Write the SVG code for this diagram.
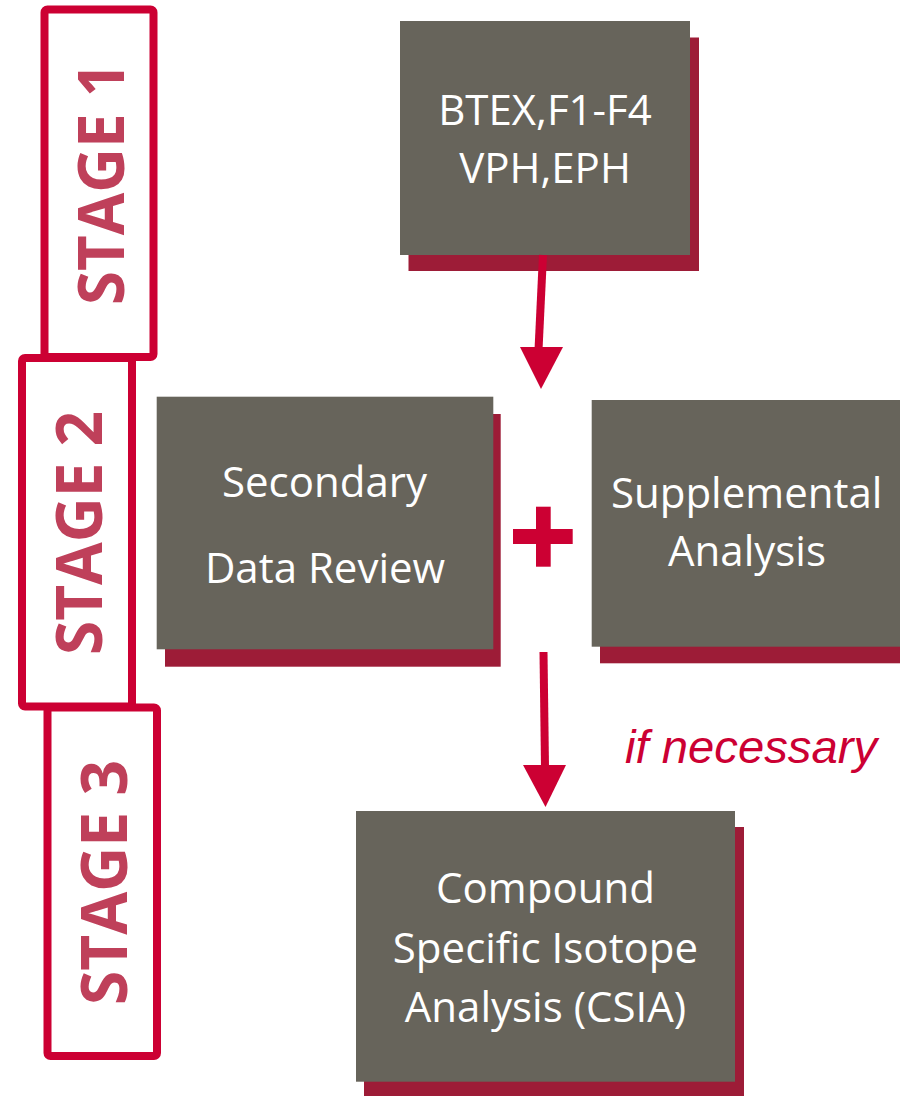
<svg xmlns="http://www.w3.org/2000/svg" width="900" height="1096" viewBox="0 0 900 1096">
<style>
.stage{fill:#fff;stroke:#CC0033;stroke-width:8;}
.stxt{font-family:"Open Sans","DejaVu Sans",sans-serif;font-weight:bold;font-size:65px;fill:#BF405A;text-anchor:middle;}
.main{fill:#67645B;}
.shadow{fill:#9D1C37;}
.btxt{font-family:"Open Sans","DejaVu Sans",sans-serif;font-size:42px;fill:#fff;text-anchor:middle;}
.conn{stroke:#CC0033;stroke-width:8;fill:none;}
.head{fill:#CC0033;}
.note{font-family:"Liberation Sans",Arial,sans-serif;font-style:italic;font-size:46px;fill:#CC0033;}
</style>
<rect width="900" height="1096" fill="#fff"/>
<g id="stage1">
<rect class="stage" x="44.5" y="9.5" width="109" height="347.5" rx="3"/>
<text class="stxt" transform="translate(124,183.5) rotate(-90)" textLength="243" lengthAdjust="spacingAndGlyphs">STAGE 1</text>
</g>
<g id="stage2">
<rect class="stage" x="22" y="358" width="110" height="348.5" rx="3"/>
<text class="stxt" transform="translate(102,533) rotate(-90)" textLength="244" lengthAdjust="spacingAndGlyphs">STAGE 2</text>
</g>
<g id="stage3">
<rect class="stage" x="47.5" y="707.5" width="109.5" height="348.5" rx="3"/>
<text class="stxt" transform="translate(127,882.5) rotate(-90)" textLength="245" lengthAdjust="spacingAndGlyphs">STAGE 3</text>
</g>
<g id="btex">
<rect class="shadow" x="408.5" y="37.5" width="290.5" height="233.5"/>
<rect class="main" x="400" y="21" width="290" height="234"/>
<text class="btxt" x="545" y="125">BTEX,F1-F4</text>
<text class="btxt" x="545" y="183">VPH,EPH</text>
</g>
<g id="secondary">
<rect class="shadow" x="165" y="414" width="335.7" height="252.7"/>
<rect class="main" x="156.7" y="396.7" width="336.6" height="252.6"/>
<text class="btxt" x="324.5" y="496.7">Secondary</text>
<text class="btxt" x="325" y="582.7">Data Review</text>
</g>
<g id="plus">
<rect class="head" x="536" y="506.7" width="14.7" height="60"/>
<rect class="head" x="513" y="529" width="59.7" height="15"/>
</g>
<g id="supplemental">
<rect class="shadow" x="600" y="416.5" width="300" height="246.8"/>
<rect class="main" x="591.7" y="400" width="308.3" height="246.7"/>
<text class="btxt" x="746.7" y="508.3">Supplemental</text>
<text class="btxt" x="747" y="566">Analysis</text>
</g>
<g id="csia">
<rect class="shadow" x="364" y="827" width="380" height="269"/>
<rect class="main" x="356" y="811" width="379" height="270.7"/>
<text class="btxt" x="545.5" y="903">Compound</text>
<text class="btxt" x="545.5" y="963">Specific Isotope</text>
<text class="btxt" x="545.5" y="1021.7">Analysis (CSIA)</text>
</g>
<g id="connectors">
<line class="conn" x1="543" y1="255" x2="538.5" y2="350"/>
<polygon class="head" points="520,347 563,347 541,389"/>
<line class="conn" x1="543.5" y1="652" x2="545" y2="767"/>
<polygon class="head" points="523,765 566,765 545.5,807"/>
<text id="note" class="note" x="625" y="762.7" textLength="252" lengthAdjust="spacingAndGlyphs">if necessary</text>
</g>
</svg>
